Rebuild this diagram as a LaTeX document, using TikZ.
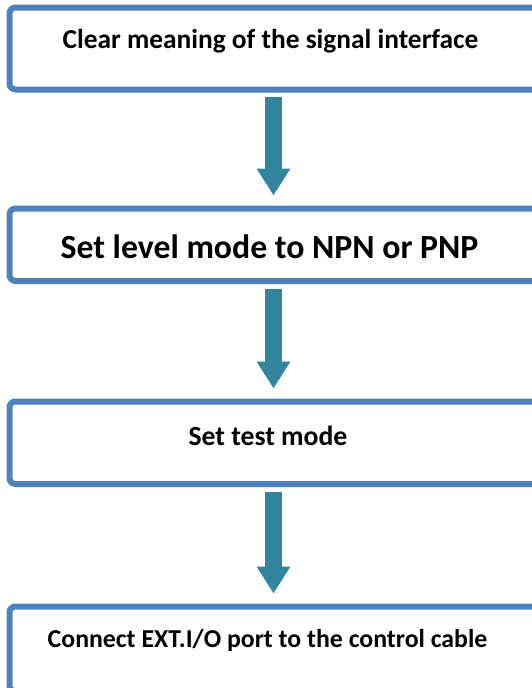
\documentclass[tikz,border=0pt]{standalone}
\usepackage{fontspec}
\setmainfont{Carlito}
\usetikzlibrary{arrows.meta, positioning}
\definecolor{boxBlue}{HTML}{4F81BD}
\definecolor{arrowTeal}{HTML}{31859C}
\tikzset{
  % outlined step boxes, cut off at the right edge of the page
  stepbox/.style   = {draw=boxBlue, line width=6pt, rounded corners=6pt,
                      minimum width=560pt, inner sep=0pt},
  steptext/.style  = {anchor=base, font=\bfseries, inner sep=0pt},
  flowarrow/.style = {draw=arrowTeal, line width=17pt,
                      -{Triangle[width=32pt, length=27pt]},
                      shorten <=4.5pt, shorten >=10pt},
}

\begin{document}
\begin{tikzpicture}[x=1pt,y=-1pt]
  \useasboundingbox (0,0) rectangle (531,688);
  % boxes
  \node[stepbox, minimum height=82pt, anchor=north west] (box1) at (6.5,4.5) {};
  \node[stepbox, minimum height=72.5pt, below=113pt of box1] (box2) {};
  \node[stepbox, minimum height=82.5pt, below=114.5pt of box2] (box3) {};
  \node[stepbox, minimum height=85pt, below=116.5pt of box3] (box4) {};
  % texts
  \node[steptext, font=\bfseries\fontsize{27.4}{32}\selectfont] (t1) at (270.5,48)
    {Clear meaning of the signal interface};
  \node[steptext, font=\bfseries\fontsize{33.8}{40}\selectfont] (t2) at (269.5,258)
    {Set level mode to NPN or PNP};
  \node[steptext, font=\bfseries\fontsize{27.7}{32}\selectfont] (t3) at (268,445)
    {Set test mode};
  \node[steptext, font=\bfseries\fontsize{25.8}{30}\selectfont] (t4) at (267.5,647)
    {Connect EXT.I/O port to the control cable};
  % arrows
  \coordinate (axis) at (273.5,0);
  \draw[flowarrow] (box1.south -| axis) -- (box2.north -| axis);
  \draw[flowarrow] (box2.south -| axis) -- (box3.north -| axis);
  \draw[flowarrow] (box3.south -| axis) -- (box4.north -| axis);
\end{tikzpicture}
\end{document}
